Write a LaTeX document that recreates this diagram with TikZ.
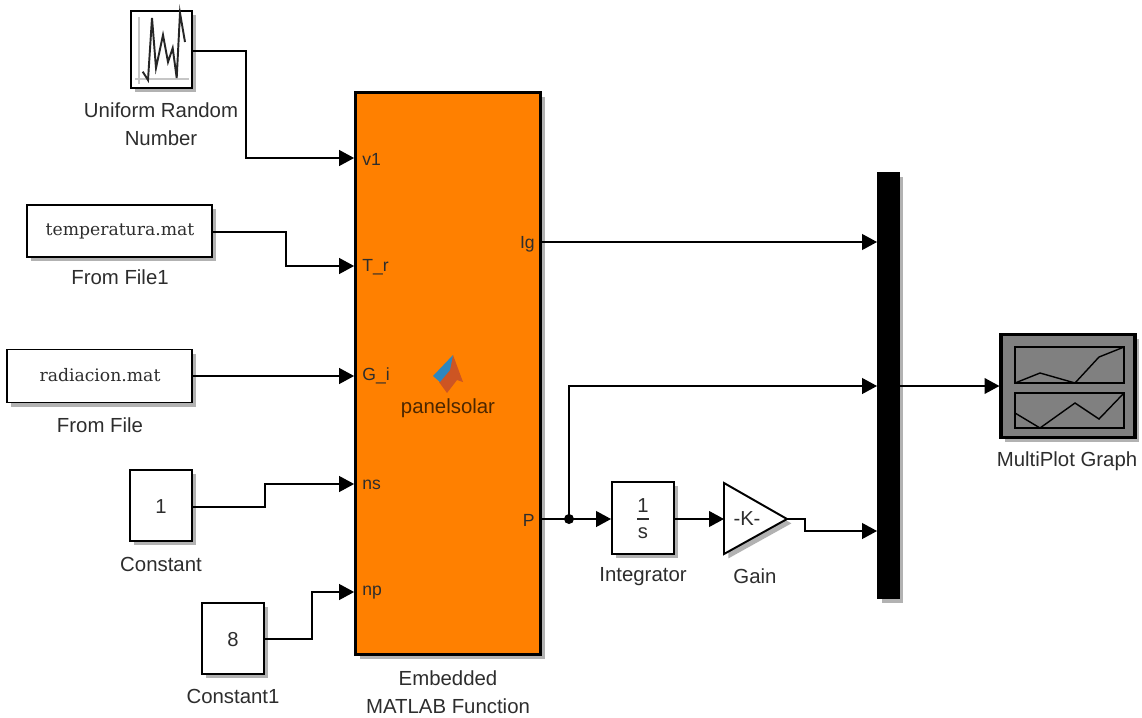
\documentclass[tikz,border=0pt]{standalone}
\usepackage{fontspec}
\setmainfont{Liberation Sans}
\newfontfamily\filefont{DejaVu Serif}
\usetikzlibrary{arrows.meta, shadows}

\definecolor{blockorange}{RGB}{255,128,0}
\definecolor{textgray}{RGB}{45,45,45}
\definecolor{scopegray}{RGB}{128,128,128}
\definecolor{logoblue}{RGB}{45,135,190}
\definecolor{logored}{RGB}{205,85,35}

\tikzset{
    blockshadow/.style={drop shadow={shadow xshift=2.5pt, shadow yshift=-2.5pt, fill=black, opacity=0.3}},
    simblock/.style={draw, line width=1.1pt, fill=white, inner sep=0pt, blockshadow},
    sig/.style={line width=0.8pt, -{Triangle[length=8.5pt, width=9pt]}},
    lbl/.style={text=textgray, font=\fontsize{11.6}{16}\selectfont, inner sep=0pt, align=center},
    portlbl/.style={text=textgray, font=\fontsize{10}{12}\selectfont, inner sep=0pt},
    iconlbl/.style={text=textgray, font=\fontsize{11.5}{13}\selectfont, inner sep=0pt},
    filelbl/.style={text=textgray, font=\filefont\fontsize{9.8}{11}\selectfont}
}

\begin{document}
\begin{tikzpicture}[x=0.02cm, y=-0.02cm]
    \useasboundingbox (0,0) rectangle (1142,717);

    % Sources on the left
    \node[simblock, minimum width=1.22cm, minimum height=1.54cm] (rnd) at (161.5,49.5) {};
    \node[simblock, minimum width=3.7cm, minimum height=1.04cm] (temp) at (119.5,231) {};
    \node[filelbl] (temptxt) at (120,231) {temperatura.mat};
    \node[simblock, minimum width=3.7cm, minimum height=1.06cm] (rad) at (99.5,376) {};
    \node[filelbl] (radtxt) at (100,375) {radiacion.mat};
    \node[simblock, minimum width=1.24cm, minimum height=1.42cm] (cte) at (161,505.5) {};
    \node[iconlbl] (ctetxt) at (161,507) {1};
    \node[simblock, minimum width=1.24cm, minimum height=1.42cm] (ctea) at (233,638.5) {};
    \node[iconlbl] (ctaetxt) at (233,640) {8};

    % Random number icon
    \draw[gray!45, line width=1pt] (139,17) -- (139,84);
    \draw[gray!45, line width=1pt] (135,79) -- (189,79);
    \draw[line width=1.1pt, black!85] (142.7,71.7) -- (148,80) -- (152,18) -- (156,68) -- (163,35) -- (168,62) -- (172.7,48) -- (176.7,78) -- (180,13) -- (185,42);

    % Main function block
    \node[simblock, fill=blockorange, line width=1.6pt, minimum width=3.7cm, minimum height=11.24cm] (fcn) at (448,373.5) {};
    \fill[logored] (453,355) -- (463,382) -- (457,380) -- (447,393) -- (439,382) -- (449,370) -- cycle;
    \fill[logoblue] (453,355) -- (433,376) -- (440,382) -- (450,370) -- cycle;
    \node[lbl, text=black!70!blockorange] (fcnname) at (448,408) {panelsolar};

    % Port labels
    \node[portlbl, anchor=west] (pv) at (362,159) {v1};
    \node[portlbl, anchor=west] (pt) at (362,267) {T\_r};
    \node[portlbl, anchor=west] (pg) at (362,376) {G\_i};
    \node[portlbl, anchor=west] (pn) at (362,485) {ns};
    \node[portlbl, anchor=west] (pp) at (362,593) {np};
    \node[portlbl, anchor=east] (pig) at (535,244) {Ig};
    \node[portlbl, anchor=east] (pout) at (535,520) {P};

    % Integrator, gain, mux, scope
    \node[simblock, minimum width=1.24cm, minimum height=1.44cm] (integ) at (643,518) {};
    \node[iconlbl] (num) at (643,506) {1};
    \node[iconlbl] (den) at (643,533) {s};
    \draw[textgray, line width=0.7pt] (637,519) -- (649,519);
    \filldraw[fill=white, line width=1.1pt, blockshadow] (724,483) -- (787,519) -- (724,554) -- cycle;
    \coordinate (gainin) at (724,519);
    \coordinate (gainout) at (787,519);
    \node[iconlbl] (gaintxt) at (747,519) {-K-};
    \node[simblock, fill=black, minimum width=0.42cm, minimum height=8.52cm] (mux) at (888.5,385.5) {};
    \node[simblock, fill=scopegray, line width=1.8pt, minimum width=2.68cm, minimum height=2.06cm] (scope) at (1068,386) {};
    \draw[line width=0.8pt] (1015,347) rectangle (1124,383);
    \draw[line width=0.8pt] (1015,393) rectangle (1124,428);
    \draw[line width=0.8pt] (1015,383) -- (1040,373) -- (1075,383) -- (1099,357) -- (1124,347);
    \draw[line width=0.8pt] (1015,413) -- (1040,428) -- (1075,403) -- (1099,419) -- (1124,393);

    % Block labels
    \node[lbl] (rndl) at (161,124) {Uniform Random\\Number};
    \node[lbl] (templ) at (120,277) {From File1};
    \node[lbl] (radl) at (100,425) {From File};
    \node[lbl] (ctel) at (161,564) {Constant};
    \node[lbl] (cteal) at (233,696) {Constant1};
    \node[lbl] (fcnl) at (448,692) {Embedded\\MATLAB Function};
    \node[lbl] (integl) at (643,577) {Integrator};
    \node[lbl] (gainl) at (755,576) {Gain};
    \node[lbl] (scopel) at (1067,461) {MultiPlot Graph};

    % Port coordinates
    \coordinate (inv) at (fcn.west |- 0,158);
    \coordinate (int) at (fcn.west |- 0,266);
    \coordinate (ing) at (fcn.west |- 0,376);
    \coordinate (inn) at (fcn.west |- 0,484);
    \coordinate (inp) at (fcn.west |- 0,592);
    \coordinate (outig) at (fcn.east |- 0,242);
    \coordinate (outp) at (fcn.east |- 0,519);
    \coordinate (split) at (569,519);
    \coordinate (muxa) at (mux.west |- 0,242);
    \coordinate (muxb) at (mux.west |- 0,386);
    \coordinate (muxc) at (mux.west |- 0,531);

    % Signals
    \draw[sig] (rnd.east |- 0,51) -- (246,51) -- (246,158) -- (inv);
    \draw[sig] (temp.east |- 0,232) -- (286,232) -- (286,266) -- (int);
    \draw[sig] (rad.east |- ing) -- (ing);
    \draw[sig] (cte.east |- 0,507) -- (265,507) -- (265,484) -- (inn);
    \draw[sig] (ctea.east |- 0,639) -- (312,639) -- (312,592) -- (inp);
    \draw[sig] (outig) -- (muxa);
    \draw[sig] (outp) -- (integ.west |- outp);
    \draw[sig] (split) -- (569,386) -- (muxb);
    \fill (split) circle (5);
    \draw[sig] (integ.east |- outp) -- (gainin);
    \draw[sig] (gainout) -- (805,519) -- (805,531) -- (muxc);
    \draw[sig] (mux.east |- scope) -- (scope.west);
\end{tikzpicture}
\end{document}
